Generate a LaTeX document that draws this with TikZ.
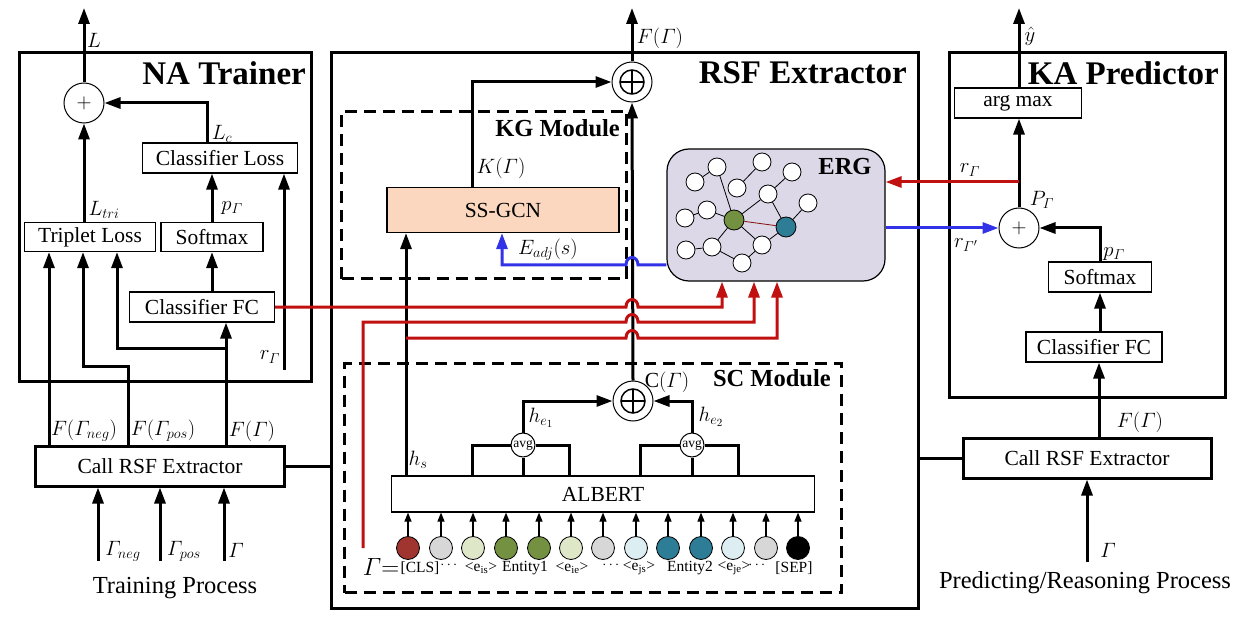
\documentclass[tikz,border=0pt]{standalone}
\usepackage{amsmath}
\usepackage{fontspec}
\setmainfont{Liberation Serif}
\usetikzlibrary{arrows.meta}
\definecolor{myred}{RGB}{192,16,16}
\definecolor{myblue}{RGB}{50,50,230}
\definecolor{peach}{RGB}{250,215,190}
\definecolor{lav}{RGB}{220,216,232}
\definecolor{tkred}{RGB}{160,52,46}
\definecolor{tkgray}{RGB}{215,215,215}
\definecolor{tkpale}{RGB}{222,232,200}
\definecolor{tkolive}{RGB}{115,145,65}
\definecolor{tklblue}{RGB}{220,238,242}
\definecolor{tkteal}{RGB}{45,125,150}
\tikzset{
  arr/.style={line width=3pt,-{Triangle[length=16pt,width=11pt]}},
  ln/.style={line width=3pt},
  redarr/.style={line width=3pt,draw=myred,-{Triangle[length=16pt,width=11pt]}},
  bluearr/.style={line width=3pt,draw=myblue,-{Triangle[length=16pt,width=11pt]}},
  tarr/.style={line width=1.2pt,-{Triangle[length=9pt,width=7pt]}},
  tbox/.style={draw,line width=1.2pt,inner sep=0pt},
  kbox/.style={draw,line width=3pt,inner sep=0pt},
  panel/.style={draw,line width=3pt,inner sep=0pt,anchor=north west},
  dbox/.style={draw,line width=3pt,dash pattern=on 12pt off 7pt,inner sep=0pt,anchor=north west},
  circ/.style={circle,draw,line width=1pt,inner sep=0pt,minimum size=40pt,fill=white},
  lab/.style={inner sep=0pt},
  bigtitle/.style={font=\fontsize{33}{36}\selectfont\bfseries,inner sep=0pt,anchor=east},
  midtitle/.style={font=\fontsize{24.5}{26}\selectfont\bfseries,inner sep=0pt},
  gn/.style={circle,draw,line width=0.8pt,fill=white,inner sep=0pt,minimum size=18pt},
  gc/.style={circle,draw,line width=0.8pt,inner sep=0pt,minimum size=20pt},
  tok/.style={circle,draw,line width=0.8pt,inner sep=0pt,minimum size=23pt},
  tlab/.style={inner sep=0pt,font=\fontsize{15.5}{17}\selectfont},
  ged/.style={line width=0.8pt}
}
\begin{document}
\begin{tikzpicture}[x=1pt,y=-1pt,font=\fontsize{21.5}{24}\selectfont]
\useasboundingbox (0,0) rectangle (1248,631);

% ---------------- panels ----------------
\node[panel,minimum width=292pt,minimum height=329pt] (na) at (18,51) {};
\node[bigtitle] (natitle) at (306,73) {NA Trainer};
\node[panel,minimum width=587pt,minimum height=556pt] (rsf) at (330,51) {};
\node[bigtitle] (rsftitle) at (907,73) {RSF Extractor};
\node[panel,minimum width=276pt,minimum height=345pt] (ka) at (948,51) {};
\node[bigtitle] (katitle) at (1219,73) {KA Predictor};

% ---------------- NA Trainer ----------------
\node[circ] (plusL) at (84,103) {$+$};
\node[tbox,minimum width=155pt,minimum height=30pt] (closs) at (220,158) {Classifier Loss};
\node[tbox,minimum width=131pt,minimum height=29pt] (trip) at (90,237) {Triplet Loss};
\node[tbox,minimum width=102pt,minimum height=29pt] (soft) at (212,237) {Softmax};
\node[tbox,minimum width=145pt,minimum height=30pt] (cfc) at (202,307) {Classifier FC};
\node[kbox,minimum width=249pt,minimum height=40pt] (callL) at (160,466) {Call RSF Extractor};

\coordinate (Ltop) at (84,8);
\coordinate (Lc) at (207,103);
\coordinate (rLb) at (284,370);
\coordinate (fx3) at (226,348);
\coordinate (tx3) at (117,348);
\coordinate (fx2) at (128,366);
\coordinate (tx2) at (83,366);
\coordinate (tx1) at (49,400);
\coordinate (in1) at (98,561);
\coordinate (in2) at (160,561);
\coordinate (in3) at (224,561);

\draw[arr] (plusL.north) -- (Ltop);
\draw[arr] (closs.north -| Lc) -- (Lc) -- (plusL.east);
\draw[arr] (trip.north -| plusL) -- (plusL.south);
\draw[arr] (soft.north) -- (soft.north |- closs.south);
\draw[arr] (soft.south |- cfc.north) -- (soft.south);
\draw[arr] (rLb) -- (rLb |- closs.south);
\draw[arr] (callL.north -| fx3) -- (fx3 |- cfc.south);
\draw[arr] (fx3) -- (tx3) -- (tx3 |- trip.south);
\draw[arr] (callL.north -| fx2) -- (fx2) -- (tx2) -- (tx2 |- trip.south);
\draw[arr] (callL.north -| tx1) -- (tx1 |- trip.south);
\draw[arr] (in1) -- (in1 |- callL.south);
\draw[arr] (in2) -- (in2 |- callL.south);
\draw[arr] (in3) -- (in3 |- callL.south);
\draw[ln] (callL.east) -- (callL.east -| rsf.west);

\node[lab] (lL) at (94,40) {$L$};
\node[lab] (lLc) at (222,134) {$L_c$};
\node[lab] (lLtri) at (104,210) {$L_{tri}$};
\node[lab] (lpG) at (232,208) {$p_\varGamma$};
\node[lab] (lrG) at (270,357) {$r_\varGamma$};
\node[lab] (lFneg) at (84,431) {$F(\varGamma_{neg})$};
\node[lab] (lFpos) at (163,431) {$F(\varGamma_{pos})$};
\node[lab] (lF) at (252,431) {$F(\varGamma)$};
\node[lab] (lGneg) at (123,551) {$\varGamma_{neg}$};
\node[lab] (lGpos) at (184,551) {$\varGamma_{pos}$};
\node[lab] (lG) at (236,550) {$\varGamma$};
\node[lab,font=\fontsize{24.5}{26}\selectfont] (trainproc) at (175,588) {Training Process};

% ---------------- RSF Extractor ----------------
\node[dbox,minimum width=285pt,minimum height=167pt] (kg) at (340,110) {};
\node[midtitle,anchor=east] (kgt) at (620,128) {KG Module};
\node[tbox,fill=peach,minimum width=232pt,minimum height=45pt] (sscn) at (503,210) {SS-GCN};
\node[draw,line width=1.2pt,fill=lav,rounded corners=22pt,minimum width=218pt,minimum height=132pt,inner sep=0pt] (erg) at (776,215) {};
\node[midtitle] (ergt) at (845,167) {ERG};
\node[dbox,minimum width=497pt,minimum height=229pt] (sc) at (343,362) {};
\node[midtitle,anchor=east] (sct) at (831,378) {SC Module};
\node[tbox,minimum width=423pt,minimum height=36pt] (albert) at (603,494) {ALBERT};
\node[circ,minimum size=24pt,font=\fontsize{13.5}{14}\selectfont] (avg1) at (523,445) {avg};
\node[circ,minimum size=24pt,font=\fontsize{13.5}{14}\selectfont] (avg2) at (692,445) {avg};

% black vertical under hops
\node[circ] (oplusT) at (632,82) {};
\node[circ] (oplusC) at (633,401) {};
\draw[arr] (oplusC.north) -- (oplusT.south);
\draw[arr] (oplusT.north) -- (632,8) coordinate (Ftop);

\draw[line width=1.5pt] (oplusT.center) circle[radius=12pt];
\draw[line width=1.5pt] ([xshift=-12pt]oplusT.center) -- ([xshift=12pt]oplusT.center);
\draw[line width=1.5pt] ([yshift=-12pt]oplusT.center) -- ([yshift=12pt]oplusT.center);
\draw[line width=1.5pt] (oplusC.center) circle[radius=12pt];
\draw[line width=1.5pt] ([xshift=-12pt]oplusC.center) -- ([xshift=12pt]oplusC.center);
\draw[line width=1.5pt] ([yshift=-12pt]oplusC.center) -- ([yshift=12pt]oplusC.center);

\coordinate (kx) at (472,0);
\draw[arr] (sscn.north -| kx) |- (oplusT.west);

\coordinate (hsx) at (406,0);
\draw[arr] (albert.north -| hsx) -- (sscn.south -| hsx);

% SC module internals
\draw[arr] (avg1.north) |- (oplusC.west);
\draw[arr] (avg2.north) |- (oplusC.east);
\coordinate (b1l) at (472,445);
\coordinate (b1r) at (569,445);
\coordinate (b2l) at (640,445);
\coordinate (b2r) at (738,445);
\draw[ln] (albert.north -| b1l) -- (b1l) -- (avg1.west);
\draw[ln] (avg1.east) -- (b1r) -- (albert.north -| b1r);
\draw[ln] (avg1.south) -- (albert.north -| avg1);
\draw[ln] (albert.north -| b2l) -- (b2l) -- (avg2.west);
\draw[ln] (avg2.east) -- (b2r) -- (albert.north -| b2r);
\draw[ln] (avg2.south) -- (albert.north -| avg2);

% tokens
\node[tok,fill=tkred] (t1) at (408,548) {};
\node[tok,fill=tkgray] (t2) at (441,548) {};
\node[tok,fill=tkpale] (t3) at (473,548) {};
\node[tok,fill=tkolive] (t4) at (506,548) {};
\node[tok,fill=tkolive] (t5) at (539,548) {};
\node[tok,fill=tkpale] (t6) at (571,548) {};
\node[tok,fill=tkgray] (t7) at (603,548) {};
\node[tok,fill=tklblue] (t8) at (636,548) {};
\node[tok,fill=tkteal] (t9) at (668,548) {};
\node[tok,fill=tkteal] (t10) at (701,548) {};
\node[tok,fill=tklblue] (t11) at (733,548) {};
\node[tok,fill=tkgray] (t12) at (766,548) {};
\node[tok,fill=black] (t13) at (798,548) {};
\foreach \i in {1,...,13} {\draw[tarr] (t\i.north) -- (t\i.north |- albert.south);}

\node[lab,font=\fontsize{24}{26}\selectfont] (tg) at (381,567) {$\varGamma{=}$};
\node[tlab] (tl1) at (420,568) {[CLS]};
\node[tlab] (tl2) at (450,565) {$\cdots$};
\node[tlab] (tl3) at (481,568) {<e\textsubscript{is}>};
\node[tlab] (tl4) at (525,568) {Entity1};
\node[tlab] (tl5) at (572,568) {<e\textsubscript{ie}>};
\node[tlab] (tl6) at (612,565) {$\cdots$};
\node[tlab] (tl7) at (639,568) {<e\textsubscript{js}>};
\node[tlab] (tl8) at (690,568) {Entity2};
\node[tlab] (tl9) at (734,568) {<e\textsubscript{je}>};
\node[tlab] (tl10) at (758,565) {$\cdots$};
\node[tlab] (tl11) at (794,568) {[SEP]};

% labels in RSF
\node[lab] (lFT) at (660,38) {$F(\varGamma)$};
\node[lab] (lK) at (501,168) {$K(\varGamma)$};
\node[lab] (lE) at (548,250) {$E_{adj}(s)$};
\node[lab] (lC) at (667,382) {C$(\varGamma)$};
\node[lab] (lhe1) at (541,418) {$h_{e_1}$};
\node[lab] (lhe2) at (711,417) {$h_{e_2}$};
\node[lab] (lhs) at (418,460) {$h_s$};

% ERG graph
\node[gn] (g1) at (717,167) {};
\node[gn] (g2) at (762,162) {};
\node[gn] (g3) at (792,172) {};
\node[gn] (g4) at (695,182) {};
\node[gn] (g5) at (737,188) {};
\node[gn] (g6) at (768,194) {};
\node[gn] (g7) at (808,203) {};
\node[gn] (g8) at (707,210) {};
\node[gn] (g9) at (685,218) {};
\node[gn] (g10) at (762,245) {};
\node[gn] (g11) at (712,247) {};
\node[gn] (g12) at (686,250) {};
\node[gn] (g13) at (742,263) {};
\node[gc,fill=tkolive] (gg) at (734,220) {};
\node[gc,fill=tkteal] (gt) at (786,227) {};
\draw[ged] (g4) -- (g1);
\draw[ged] (g1) -- (gg);
\draw[ged] (g2) -- (g5);
\draw[ged] (g3) -- (g6);
\draw[ged] (g6) -- (gg);
\draw[ged] (g6) -- (gt);
\draw[ged] (g7) -- (gt);
\draw[ged] (g8) -- (gg);
\draw[ged] (g9) -- (g8);
\draw[ged] (gg) -- (g10);
\draw[ged] (gg) -- (g11);
\draw[ged] (g10) -- (gt);
\draw[ged] (g11) -- (g12);
\draw[ged] (g11) -- (g13);
\draw[ged] (g13) -- (g10);
\draw[line width=0.8pt,draw=myred!70!black] (gg) -- (gt);

% red lines into ERG (with hops over the black vertical)
\coordinate (r1) at (722,307);
\coordinate (r2s) at (363,548);
\coordinate (r2) at (754,322);
\coordinate (r3s) at (406,338);
\coordinate (r3) at (777,338);
\draw[redarr] (cfc.east) -- (626,307) .. controls (626,297) and (638,297) .. (638,307) -- (r1) -- (r1 |- erg.south);
\draw[redarr] (r2s) -- (363,322) -- (626,322) .. controls (626,312) and (638,312) .. (638,322) -- (r2) -- (r2 |- erg.south);
\draw[redarr] (r3s) -- (626,338) .. controls (626,328) and (638,328) .. (638,338) -- (r3) -- (r3 |- erg.south);

% blue line ERG -> SS-GCN
\coordinate (bl1) at (667,265);
\coordinate (bl2) at (502,265);
\draw[bluearr] (erg.west |- bl1) -- (638,265) .. controls (638,255) and (626,255) .. (626,265) -- (bl2) -- (bl2 |- sscn.south);

% ---------------- KA Predictor ----------------
\node[tbox,minimum width=127pt,minimum height=30pt] (argmax) at (1018,103) {arg max};
\node[circ] (plusR) at (1019,228) {$+$};
\node[tbox,minimum width=103pt,minimum height=30pt] (softR) at (1100,277) {Softmax};
\node[tbox,minimum width=136pt,minimum height=30pt] (cfcR) at (1094,347) {Classifier FC};
\node[kbox,minimum width=248pt,minimum height=40pt] (callR) at (1087,458) {Call RSF Extractor};

\coordinate (ytop) at (1019,8);
\coordinate (rr) at (1019,182);
\coordinate (bb) at (885,228);
\coordinate (fR) at (1099,0);
\coordinate (inR) at (1087,562);

\draw[arr] (argmax.north -| plusR) -- (ytop);
\draw[arr] (plusR.north) -- (plusR.north |- argmax.south);
\draw[redarr] (rr) -- (erg.east |- rr);
\draw[bluearr] (erg.east |- bb) -- (plusR.west);
\draw[arr] (softR.north) |- (plusR.east);
\draw[arr] (softR.south |- cfcR.north) -- (softR.south);
\draw[arr] (callR.north -| fR) -- (cfcR.south -| fR);
\draw[arr] (inR) -- (callR.south);
\draw[ln] (callR.west) -- (callR.west -| rsf.east);

\node[lab] (lyhat) at (1030,36) {$\hat{y}$};
\node[lab] (lrR) at (970,170) {$r_\varGamma$};
\node[lab] (lPR) at (1042,200) {$P_\varGamma$};
\node[lab] (lrR2) at (966,245) {$r_{\varGamma'}$};
\node[lab] (lpR) at (1114,254) {$p_\varGamma$};
\node[lab] (lFR) at (1140,422) {$F(\varGamma)$};
\node[lab] (lGR) at (1108,550) {$\varGamma$};
\node[lab,font=\fontsize{24.5}{26}\selectfont] (predproc) at (1085,583) {Predicting/Reasoning Process};
\end{tikzpicture}
\end{document}
